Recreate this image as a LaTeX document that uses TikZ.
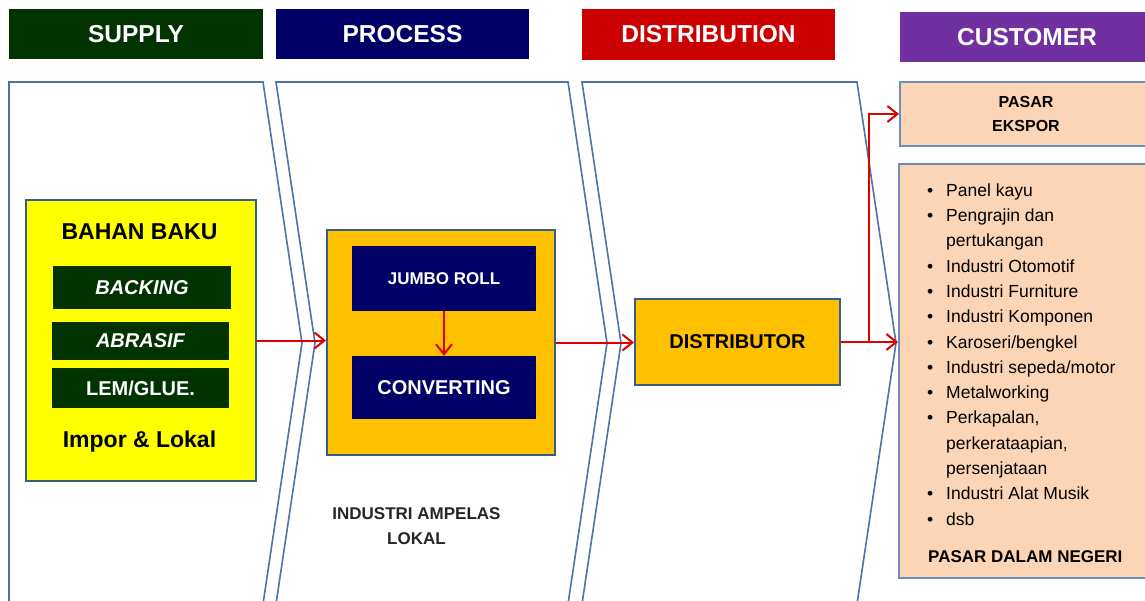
\documentclass[tikz,border=0pt]{standalone}
\usepackage{fontspec}
\setmainfont{Liberation Sans}
\usetikzlibrary{arrows.meta}
\definecolor{supg}{RGB}{0,51,0}
\definecolor{procb}{RGB}{0,0,102}
\definecolor{distr}{RGB}{204,0,0}
\definecolor{custp}{RGB}{112,48,160}
\definecolor{chevc}{RGB}{80,115,165}
\definecolor{bordc}{RGB}{56,93,138}
\definecolor{custbord}{RGB}{110,140,185}
\definecolor{yel}{RGB}{255,255,0}
\definecolor{orng}{RGB}{255,192,0}
\definecolor{peach}{RGB}{251,213,181}
\definecolor{arrc}{RGB}{220,0,0}
\newcommand{\fsz}[1]{\fontsize{#1}{#1}\selectfont}
\tikzset{
 hdr/.style={fill=#1, text=white, font=\fsz{24.5}\bfseries, inner sep=0, minimum height=50pt},
 chev/.style={draw=chevc, line width=1.6pt, line join=miter},
 bx/.style={draw=bordc, line width=2pt, inner sep=0},
 cbx/.style={draw=custbord, fill=peach, line width=2pt, inner sep=0},
 inbox/.style={fill=#1, inner sep=0, text=white},
 lbl/.style={inner sep=0, text=black},
 arr/.style={draw=arrc, line width=2pt, -{Straight Barb[length=10pt,width=16pt]}},
}
\begin{document}
\begin{tikzpicture}[x=1pt,y=-1pt]
\useasboundingbox (0,0) rectangle (1145,601);
\fill[white] (0,0) rectangle (1145,601);

% headers
\node[hdr=supg, minimum width=254pt] (hsup) at (136,34) {SUPPLY};
\node[hdr=procb, minimum width=253pt] (hproc) at (402.5,34) {PROCESS};
\node[hdr=distr, minimum width=253pt, minimum height=51pt] (hdist) at (708.5,34.5) {DISTRIBUTION};
\node[hdr=custp, minimum width=254pt] (hcust) at (1027,37) {CUSTOMER};

% chevrons
\begin{scope}
\clip (0,0) rectangle (1145,601);
\draw[chev] (9,606) -- (9,82) -- (263,82) -- (302,343) -- (263,604);
\draw[chev] (276,82) -- (568,82) -- (607,343) -- (568,604) -- (276,604) -- (315,343) -- cycle;
\draw[chev] (582,82) -- (857,82) -- (896,343) -- (857,604) -- (582,604) -- (621,343) -- cycle;
\end{scope}

% supply
\node[bx, fill=yel, minimum width=230pt, minimum height=281pt] (bahan) at (141,340.5) {};
\node[lbl, font=\fsz{23}\bfseries] (tbahan) at (139.5,232) {BAHAN BAKU};
\node[inbox=supg, minimum width=178pt, minimum height=43pt, font=\fsz{20}\bfseries\itshape] (backing) at (142,287.5) {BACKING};
\node[inbox=supg, minimum width=177pt, minimum height=38pt, font=\fsz{20}\bfseries\itshape] (abrasif) at (140.5,341) {ABRASIF};
\node[inbox=supg, minimum width=177pt, minimum height=40pt, font=\fsz{20}\bfseries] (lem) at (140.5,388) {LEM/GLUE.};
\node[lbl, font=\fsz{23}\bfseries] (impor) at (139.5,442) {Impor \& Lokal};

% process
\node[bx, fill=orng, minimum width=228pt, minimum height=225pt] (proc) at (441,342.5) {};
\node[inbox=procb, minimum width=184pt, minimum height=65pt, font=\fsz{17}\bfseries] (jumbo) at (444,278.5) {JUMBO ROLL};
\node[inbox=procb, minimum width=184pt, minimum height=63pt, font=\fsz{20}\bfseries] (conv) at (444,387.5) {CONVERTING};
\node[lbl, font=\fontsize{17}{25}\selectfont\bfseries, align=center, text=black!85] (ind) at (416.5,526.5) {INDUSTRI AMPELAS\\LOKAL};

% distribution
\node[bx, fill=orng, minimum width=205pt, minimum height=86pt, font=\fsz{20}\bfseries] (dist) at (737.5,342) {DISTRIBUTOR};

% customer
\node[cbx, minimum width=252pt, minimum height=64pt, font=\fontsize{16}{24}\selectfont\bfseries, align=center] (ekspor) at (1026,114) {PASAR\\EKSPOR};
\node[cbx, minimum width=253pt, minimum height=414pt] (main) at (1025.5,371) {};
\node[lbl, anchor=north west, font=\fontsize{17.5}{25.3}\selectfont] (list) at (927,178.3) {%
\begin{tabular}{@{}p{19pt}@{}l@{}}
\textbullet & Panel kayu\\
\textbullet & Pengrajin dan\\
 & pertukangan\\
\textbullet & Industri Otomotif\\
\textbullet & Industri Furniture\\
\textbullet & Industri Komponen\\
\textbullet & Karoseri/bengkel\\
\textbullet & Industri sepeda/motor\\
\textbullet & Metalworking\\
\textbullet & Perkapalan,\\
 & perkerataapian,\\
 & persenjataan\\
\textbullet & Industri Alat Musik\\
\textbullet & dsb
\end{tabular}};
\node[lbl, anchor=west, font=\fsz{17}\bfseries] (dalam) at (928,557) {PASAR DALAM NEGERI};

% connectors
\draw[arr] (bahan.east) -- (bahan.east -| proc.west);
\draw[arr] (jumbo.south) -- (conv.north);
\draw[arr] (proc.east) -- (proc.east -| dist.west);
\draw[arr] (dist.east) -- (dist.east -| main.west);
\coordinate (br) at (869,342);
\draw[arr] (br) |- (ekspor.west);
\end{tikzpicture}
\end{document}
